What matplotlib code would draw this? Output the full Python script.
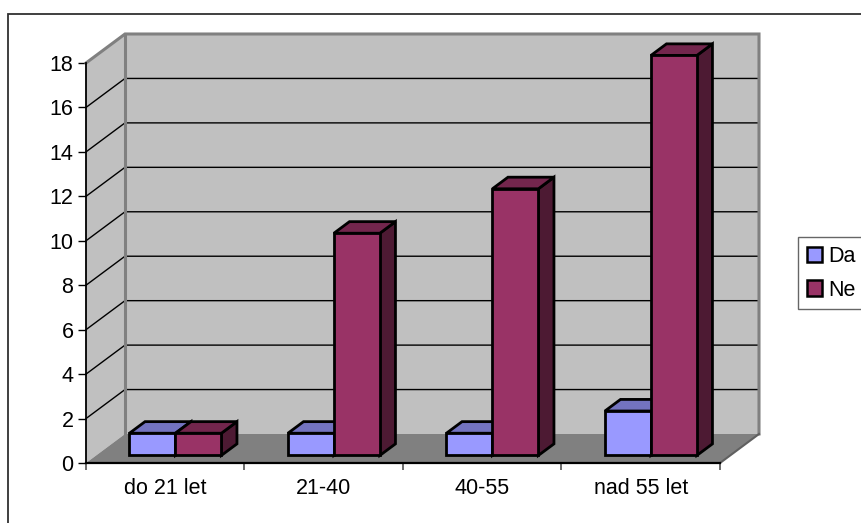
import matplotlib
matplotlib.use("Agg")
import matplotlib.pyplot as plt
from matplotlib.patches import Polygon, Patch, Rectangle

plt.rcParams['font.family'] = ['Liberation Sans', 'DejaVu Sans']

categories = ["do 21 let", "21-40", "40-55", "nad 55 let"]
series_names = ["Da", "Ne"]
da_values = [1, 1, 1, 2]
ne_values = [1, 10, 12, 18]
yticks = [0, 2, 4, 6, 8, 10, 12, 14, 16, 18]

# face colours: front, top, side
colors = {
    "Da": ("#9999FF", "#7373C0", "#4D4D80"),
    "Ne": ("#993366", "#73264D", "#4D1A33"),
}

W, H = 862, 523
fig = plt.figure(figsize=(W / 100, H / 100), dpi=100)

# front plot box in pixels
x0, x1, ytop, ybot = 86, 720, 63, 463
ax = fig.add_axes([x0 / W, (H - ybot) / H, (x1 - x0) / W, (ybot - ytop) / H])
ax.set_xlim(0, len(categories))
ax.set_ylim(0, 18)

# depth of the 3D box, in data units
DX = 39 / ((x1 - x0) / len(categories))
DY = 29 / ((ybot - ytop) / 18)
YMAX = 18
NC = len(categories)

wall = "#C0C0C0"
edge = "#808080"

# side wall, back wall, floor
ax.add_patch(Polygon([(0, 0), (DX, DY), (DX, YMAX + DY), (0, YMAX)],
                     closed=True, fc=wall, ec="none", clip_on=False, zorder=1))
ax.add_patch(Polygon([(DX, DY), (NC + DX, DY), (NC + DX, YMAX + DY), (DX, YMAX + DY)],
                     closed=True, fc=wall, ec="none", clip_on=False, zorder=1))
ax.add_patch(Polygon([(0, 0), (NC, 0), (NC + DX, DY), (DX, DY)],
                     closed=True, fc="#808080", ec="none", clip_on=False, zorder=2))

# gridlines on the walls
for v in yticks[1:-1]:
    ax.plot([0, DX, NC + DX], [v, v + DY, v + DY], color="black", lw=1,
            clip_on=False, zorder=1.5)

# wall edges
ax.plot([0, DX, NC + DX, NC + DX], [YMAX, YMAX + DY, YMAX + DY, DY],
        color=edge, lw=2.2, clip_on=False, zorder=1.6, solid_joinstyle="miter")
ax.plot([DX, DX], [DY, YMAX + DY], color=edge, lw=2.2, clip_on=False, zorder=1.6)
ax.plot([NC, NC + DX], [0, DY], color="#606060", lw=1.5, clip_on=False, zorder=2.1)

# bars
bw = 0.29
f0, f1 = 0.26, 0.66
z = 3
for i in range(NC):
    c = i + 0.5
    for name, vals, xl in (("Da", da_values, c - bw), ("Ne", ne_values, c)):
        v = vals[i]
        front, top, side = colors[name]
        ox0, oy0 = f0 * DX, f0 * DY
        ox1, oy1 = f1 * DX, f1 * DY
        # side face
        ax.add_patch(Polygon([(xl + bw + ox0, oy0), (xl + bw + ox1, oy1),
                              (xl + bw + ox1, v + oy1), (xl + bw + ox0, v + oy0)],
                             closed=True, fc=side, ec="black", lw=2,
                             clip_on=False, zorder=z, joinstyle="miter"))
        # top face
        ax.add_patch(Polygon([(xl + ox0, v + oy0), (xl + bw + ox0, v + oy0),
                              (xl + bw + ox1, v + oy1), (xl + ox1, v + oy1)],
                             closed=True, fc=top, ec="black", lw=2,
                             clip_on=False, zorder=z, joinstyle="miter"))
        # front face
        ax.bar(xl + ox0, v, width=bw, bottom=oy0, align="edge", color=front,
               edgecolor="black", linewidth=2, zorder=z + 0.5, clip_on=False)
        z += 1

# axes
for s in ("top", "right"):
    ax.spines[s].set_visible(False)
ax.spines["left"].set_linewidth(1.3)
ax.spines["bottom"].set_linewidth(1.6)
ax.spines["left"].set_zorder(20)
ax.spines["bottom"].set_zorder(20)
ax.patch.set_visible(False)

ax.set_yticks(yticks)
ax.set_yticklabels([str(t) for t in yticks])
ax.tick_params(axis="y", direction="out", length=6, width=1, pad=3,
               labelsize=15.5, colors="black")
ax.set_xticks(range(NC + 1))
ax.set_xticklabels([])
ax.tick_params(axis="x", which="major", direction="out", length=5, width=1.3,
               color="#606060")
ax.set_xticks([i + 0.5 for i in range(NC)], minor=True)
ax.set_xticklabels(categories, minor=True)
ax.tick_params(axis="x", which="minor", length=0, pad=11, labelsize=15.5)

# chart border (top and left edges visible)
fig.add_artist(Rectangle((8 / W, -0.1), 1.2, 1.1 - 14 / H, transform=fig.transFigure,
                         fill=False, ec="#303030", lw=1.3))

handles = [Patch(fc=colors[n][0], ec="black", lw=1.8) for n in series_names]
leg = fig.legend(handles, series_names, loc="upper left",
                 bbox_to_anchor=(798 / W, 1 - 237 / H), frameon=True,
                 fancybox=False, fontsize=15.5, handlelength=0.7, handleheight=0.7,
                 handletextpad=0.3, borderpad=0.4, labelspacing=0.6,
                 borderaxespad=0)
leg.get_frame().set_edgecolor("#404040")
leg.get_frame().set_linewidth(1)

fig.savefig("out.png", dpi=100)
